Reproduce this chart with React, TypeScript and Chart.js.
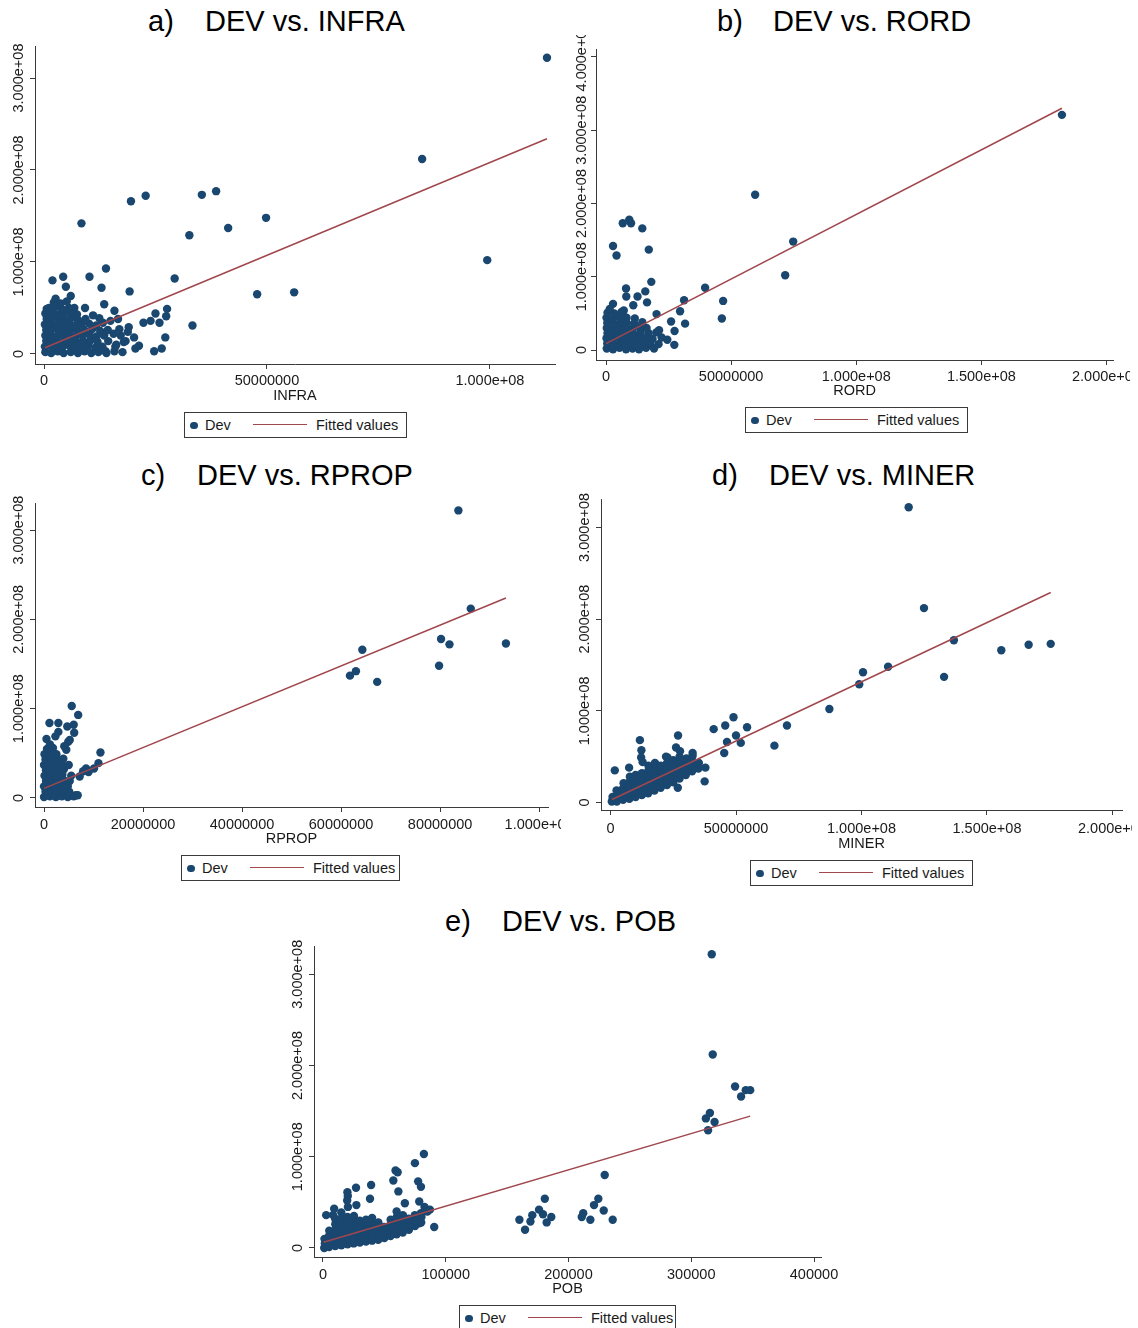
import React, { useEffect, useRef } from 'react';
import { Chart, registerables } from 'chart.js';

Chart.register(...registerables);

const NAVY = '#1a476f';
const MAROON = '#a0474d';
const AXIS = '#3a3a3a';
const TEXT = '#1a1a1a';
const FONT = "'Liberation Sans', Arial, Helvetica, sans-serif";
const FS = 14.5;

// ---------- DATA (x in millions, Dev in millions; POB in persons) ----------
const infraPoints: [number, number][] = [
  [112.8, 322], [84.8, 212], [99.4, 102], [38.6, 177], [35.4, 173], [22.8, 172], [19.5, 166], [49.8, 148],
  [8.4, 142], [41.3, 137], [32.6, 129], [29.3, 82], [47.8, 65], [56.1, 67], [13.9, 93], [10.2, 84], [4.3, 84],
  [1.9, 80], [4.9, 73], [12.9, 72], [6.0, 63], [13.5, 54], [19.2, 68], [33.3, 31], [27.6, 49], [27.4, 41],
  [25.0, 44], [25.9, 34], [23.9, 36], [22.3, 34], [27.2, 18], [26.4, 6], [24.7, 3], [19.0, 29], [21.3, 9],
  [20.2, 18], [15.8, 47], [9.2, 50], [6.8, 50], [0.6, 49], [2.6, 60], [15.8, 3], [13.8, 3],
  [16.6, 38], [17.2, 20], [18.3, 14], [16.0, 8], [18.8, 24], [20.5, 6],
  [0.3, 2], [1.6, 1], [3.1, 3], [4.4, 1], [6.0, 2], [7.6, 1], [9.1, 3], [10.6, 1], [12.2, 2], [14.0, 1], [17.6, 2],
  [0.2, 8], [1.4, 9], [2.8, 7], [4.2, 8], [5.7, 9], [7.1, 7], [8.5, 8], [10.0, 9], [11.6, 7], [13.1, 8], [16.2, 10],
  [0.5, 14], [1.7, 15], [3.0, 13], [4.5, 14], [5.9, 15], [7.3, 13], [8.8, 14], [10.4, 15], [12.0, 13], [14.4, 14], [17.9, 13],
  [0.3, 20], [1.5, 21], [2.9, 19], [4.3, 20], [5.7, 21], [7.1, 19], [8.6, 20], [10.2, 21], [11.8, 19], [13.5, 20], [15.6, 22],
  [0.5, 26], [1.8, 27], [3.2, 25], [4.6, 26], [6.0, 27], [7.4, 25], [9.0, 26], [10.8, 27], [12.6, 25], [14.3, 26], [16.9, 27],
  [0.2, 32], [1.4, 33], [2.8, 31], [4.2, 32], [5.6, 33], [7.0, 31], [8.4, 32], [10.1, 33], [11.7, 31], [13.2, 34],
  [0.6, 38], [1.9, 39], [3.2, 37], [4.6, 38], [6.1, 39], [7.6, 37], [9.3, 38], [12.4, 39], [14.9, 36],
  [0.3, 44], [1.5, 45], [2.9, 43], [4.3, 44], [5.8, 45], [7.4, 43], [11.0, 42],
  [1.1, 50], [2.5, 51], [4.0, 49], [5.6, 50], [2.2, 56], [3.7, 55], [5.1, 57],
];
const infraFit: [number, number][] = [[0.2, 6.8], [112.8, 234]];

const rordPoints: [number, number][] = [
  [182.2, 321], [59.6, 212], [74.8, 148], [71.6, 102], [9.3, 178], [6.7, 173], [10.0, 173], [14.5, 166],
  [2.8, 142], [4.2, 129], [17.1, 137], [39.6, 85], [46.8, 67], [46.3, 43], [31.2, 68], [29.6, 53], [31.6, 36],
  [26.0, 39], [27.4, 26], [27.3, 7], [24.5, 14], [21.2, 27], [18.1, 93], [15.7, 80], [8.0, 84], [8.1, 73],
  [12.6, 73], [2.8, 63], [10.9, 61], [16.4, 65], [7.1, 54], [20.2, 49], [17.8, 7], [14.8, 7],
  [0.3, 2], [2.8, 1], [5.4, 3], [8.0, 1], [10.6, 2], [13.2, 1], [16.0, 3], [19.2, 2],
  [0.5, 9], [3.0, 8], [5.6, 10], [8.2, 9], [10.8, 8], [13.5, 10], [16.5, 9], [21.0, 8],
  [0.2, 16], [2.7, 15], [5.3, 17], [7.9, 16], [10.5, 15], [13.1, 17], [15.8, 16], [18.6, 15], [22.2, 17],
  [0.6, 23], [3.2, 22], [5.8, 24], [8.4, 23], [11.0, 22], [13.8, 24], [17.0, 23], [20.1, 24],
  [0.3, 30], [2.9, 29], [5.5, 31], [8.1, 30], [10.7, 29], [13.4, 31], [16.2, 30],
  [0.5, 37], [3.1, 36], [5.7, 38], [8.3, 37], [11.2, 36], [14.5, 38],
  [0.2, 44], [2.8, 43], [5.4, 45], [8.2, 44], [11.5, 43],
  [0.6, 51], [3.3, 50], [6.2, 52], [1.5, 56],
];
const rordFit: [number, number][] = [[0, 8.7], [182.2, 330]];

const rpropPoints: [number, number][] = [
  [83.7, 322], [86.2, 212], [80.2, 178], [81.9, 172], [93.3, 173], [79.8, 148], [64.3, 166], [63.0, 142],
  [61.8, 137], [67.3, 130], [5.6, 103], [6.9, 93], [1.1, 84], [2.9, 84], [6.0, 82], [4.7, 80], [0.5, 66],
  [6.1, 73], [2.3, 69], [2.9, 74], [5.2, 65], [11.4, 51], [11.0, 39], [10.1, 33], [8.5, 33], [7.9, 30],
  [9.0, 29], [7.2, 24], [6.4, 3], [4.5, 54], [4.9, 63], [4.1, 58],
  [0.0, 1], [1.2, 2], [2.4, 1], [3.6, 2], [4.8, 1], [6.0, 2], [6.8, 3],
  [0.3, 7], [1.5, 8], [2.7, 7], [3.9, 8], [5.1, 7],
  [0.0, 13], [1.2, 14], [2.4, 13], [3.6, 14], [4.8, 13],
  [0.4, 19], [1.6, 20], [2.8, 19], [4.0, 20], [5.2, 19],
  [0.1, 25], [1.3, 26], [2.5, 25], [3.7, 26], [5.5, 25],
  [0.4, 31], [1.6, 32], [2.8, 31], [4.0, 32],
  [0.0, 37], [1.2, 38], [2.4, 37], [3.6, 38], [5.0, 37],
  [0.3, 43], [1.5, 44], [2.7, 43], [3.9, 44],
  [0.1, 49], [1.3, 50], [2.5, 49], [0.6, 55], [1.8, 56], [1.2, 60],
];
const rpropFit: [number, number][] = [[0, 10.8], [93.3, 224]];

const minerPoints: [number, number][] = [
  [118.8, 322], [124.9, 212], [136.8, 177], [175.4, 173], [166.6, 172], [155.7, 166], [110.6, 148], [100.6, 142],
  [132.9, 137], [99.1, 129], [87.2, 102], [70.3, 84], [65.3, 62], [54.4, 82], [49.0, 93], [45.7, 84], [41.1, 80],
  [50.0, 73], [46.4, 66], [51.9, 65], [45.3, 54], [26.9, 73], [11.7, 68], [37.5, 23], [37.8, 38], [26.8, 16],
  [1.7, 35], [7.4, 38], [12.3, 57], [26.1, 60], [32.7, 54], [22.1, 50],
  [0.5, 1], [0.8, 6], [2.5, 1], [2.6, 7], [2.4, 13], [5.0, 3], [5.1, 9], [4.9, 15], [5.2, 21],
  [7.5, 4], [7.6, 10], [7.4, 16], [7.5, 22], [7.7, 28], [10.0, 6], [10.1, 12], [9.9, 18], [10.2, 24], [10.0, 30],
  [12.5, 8], [12.6, 14], [12.4, 20], [12.6, 26], [12.5, 32], [12.8, 44], [12.2, 49],
  [15.0, 10], [15.1, 16], [14.9, 22], [15.2, 28], [15.0, 34], [15.1, 40],
  [17.5, 13], [17.6, 19], [17.4, 25], [17.6, 31], [17.5, 37], [17.7, 43],
  [20.0, 16], [20.1, 22], [19.9, 28], [20.2, 34], [20.0, 40],
  [22.5, 19], [22.6, 25], [22.4, 31], [22.6, 37], [22.5, 43], [22.7, 49],
  [25.0, 22], [25.1, 28], [24.9, 34], [25.2, 40], [25.0, 46],
  [27.5, 26], [27.6, 32], [27.4, 38], [27.6, 44], [27.5, 50], [27.7, 56],
  [30.0, 30], [30.1, 36], [29.9, 42], [30.2, 48],
  [32.5, 34], [32.6, 40], [32.4, 46], [32.7, 51], [35.0, 37], [35.2, 43],
];
const minerFit: [number, number][] = [[0.6, 3.3], [175.4, 229]];

const pobPoints: [number, number][] = [
  [316700, 322], [317500, 212], [335700, 177], [340600, 166], [344400, 173], [348000, 173], [315200, 148],
  [311900, 142], [319000, 138], [313700, 129], [82200, 103], [74900, 93], [59100, 85], [60800, 83],
  [229500, 80], [77500, 73], [79800, 67], [39200, 69], [26900, 66], [180700, 54], [224300, 54], [220800, 47],
  [228700, 41], [236000, 31], [212000, 38], [210800, 34], [217800, 31], [176000, 42], [179200, 37],
  [170500, 36], [186000, 34], [182200, 28], [169000, 29], [160000, 31], [164600, 20], [90600, 23],
  [87100, 42], [82700, 45], [78400, 51], [66700, 49], [61400, 62], [57300, 74], [38300, 54], [20200, 57],
  [19900, 61], [8200, 36], [2600, 36], [9100, 43], [27200, 47], [74000, 31], [78400, 27],
  [1000, 0], [1500, 5], [1200, 10], [5000, 1], [5200, 7], [4800, 13], [5100, 19],
  [10000, 2], [10200, 8], [9800, 14], [10100, 20], [10000, 26], [9900, 32],
  [15000, 3], [15200, 9], [14800, 15], [15100, 21], [15000, 27], [15200, 33], [14900, 39],
  [20000, 4], [20200, 10], [19800, 16], [20100, 22], [20000, 28], [19900, 34], [20300, 45], [19700, 52],
  [25000, 5], [25200, 11], [24800, 17], [25100, 23], [25000, 29], [25200, 35],
  [30000, 6], [30200, 12], [29800, 18], [30100, 24], [30000, 30],
  [35000, 7], [35200, 13], [34800, 19], [35100, 25], [35000, 31],
  [40000, 8], [40200, 14], [39800, 20], [40100, 26], [40000, 33],
  [45000, 9], [45200, 15], [44800, 21], [45100, 28],
  [50000, 11], [50200, 17], [49800, 23],
  [55000, 13], [55200, 19], [54800, 25], [55100, 31],
  [60000, 15], [60200, 21], [59800, 27], [60100, 34], [60000, 40],
  [65000, 17], [65200, 23], [64800, 29], [65100, 36],
  [70000, 20], [70200, 26], [69800, 32],
  [75000, 24], [75200, 30], [74800, 36],
  [80000, 28], [80200, 34], [79800, 38], [85000, 40],
];
const pobFit: [number, number][] = [[500, 6.2], [348000, 144.5]];

// tick values and labels
const devTicks = [0, 100, 200, 300];
const devTickLabels = ['0', '1.000e+08', '2.000e+08', '3.000e+08'];
const devTicksB = [0, 100, 200, 300, 400];
const devTickLabelsB = ['0', '1.000e+08', '2.000e+08', '3.000e+08', '4.000e+08'];
const infraTicks = [0, 50, 100];
const infraTickLabels = ['0', '50000000', '1.000e+08'];
const rordTicks = [0, 50, 100, 150, 200];
const rordTickLabels = ['0', '50000000', '1.000e+08', '1.500e+08', '2.000e+08'];
const rpropTicks = [0, 20, 40, 60, 80, 100];
const rpropTickLabels = ['0', '20000000', '40000000', '60000000', '80000000', '1.000e+08'];
const minerTicks = [0, 50, 100, 150, 200];
const minerTickLabels = ['0', '50000000', '1.000e+08', '1.500e+08', '2.000e+08'];
const pobTicks = [0, 100000, 200000, 300000, 400000];
const pobTickLabels = ['0', '100000', '200000', '300000', '400000'];

// ---------- LAYOUT ----------
type Panel = {
  letter: string; title: string; xTitle: string;
  points: [number, number][]; fit: [number, number][];
  xTicks: number[]; xTickLabels: string[]; yTicks: number[]; yTickLabels: string[];
  xMin: number; xMax: number; yMin: number; yMax: number;
  canvas: { left: number; top: number; width: number; height: number };
  area: { left: number; top: number; right: number; bottom: number };
  tickPad: number; titlePad: number; yLabelOffset: number;
  head: { letterX: number; textX: number; cy: number };
  legend: { left: number; top: number; width: number };
};

const panels: Panel[] = [
  {
    letter: 'a)', title: 'DEV vs. INFRA', xTitle: 'INFRA', points: infraPoints, fit: infraFit,
    xTicks: infraTicks, xTickLabels: infraTickLabels, yTicks: devTicks, yTickLabels: devTickLabels,
    xMin: -2.02, xMax: 114.6, yMin: -10.9, yMax: 334.8,
    canvas: { left: 0, top: 36, width: 562, height: 372 },
    area: { left: 35, top: 46, right: 555, bottom: 364 },
    tickPad: 5, titlePad: 5, yLabelOffset: 16,
    head: { letterX: 148, textX: 205, cy: 21 },
    legend: { left: 184, top: 412, width: 223 },
  },
  {
    letter: 'b)', title: 'DEV vs. RORD', xTitle: 'RORD', points: rordPoints, fit: rordFit,
    xTicks: rordTicks, xTickLabels: rordTickLabels, yTicks: devTicksB, yTickLabels: devTickLabelsB,
    xMin: -4.0, xMax: 202.6, yMin: -13.65, yMax: 410.9,
    canvas: { left: 570, top: 35, width: 560, height: 365 },
    area: { left: 596, top: 49, right: 1113, bottom: 360 },
    tickPad: 5, titlePad: 2, yLabelOffset: 14,
    head: { letterX: 717, textX: 773, cy: 21 },
    legend: { left: 745, top: 407, width: 223 },
  },
  {
    letter: 'c)', title: 'DEV vs. RPROP', xTitle: 'RPROP', points: rpropPoints, fit: rpropFit,
    xTicks: rpropTicks, xTickLabels: rpropTickLabels, yTicks: devTicks, yTickLabels: devTickLabels,
    xMin: -1.82, xMax: 101.8, yMin: -10.1, yMax: 330.3,
    canvas: { left: 0, top: 490, width: 561, height: 360 },
    area: { left: 35, top: 503, right: 548, bottom: 807 },
    tickPad: 6, titlePad: 4, yLabelOffset: 16,
    head: { letterX: 141, textX: 197, cy: 475 },
    legend: { left: 181, top: 855, width: 219 },
  },
  {
    letter: 'd)', title: 'DEV vs. MINER', xTitle: 'MINER', points: minerPoints, fit: minerFit,
    xTicks: minerTicks, xTickLabels: minerTickLabels, yTicks: devTicks, yTickLabels: devTickLabels,
    xMin: -3.8, xMax: 203.8, yMin: -8.2, yMax: 331,
    canvas: { left: 570, top: 490, width: 562, height: 366 },
    area: { left: 601, top: 499, right: 1122, bottom: 810 },
    tickPad: 7, titlePad: 5, yLabelOffset: 16,
    head: { letterX: 712, textX: 769, cy: 475 },
    legend: { left: 750, top: 860, width: 223 },
  },
  {
    letter: 'e)', title: 'DEV vs. POB', xTitle: 'POB', points: pobPoints, fit: pobFit,
    xTicks: pobTicks, xTickLabels: pobTickLabels, yTicks: devTicks, yTickLabels: devTickLabels,
    xMin: -7330, xMax: 405700, yMin: -9.9, yMax: 331,
    canvas: { left: 280, top: 935, width: 560, height: 365 },
    area: { left: 314, top: 946, right: 821, bottom: 1257 },
    tickPad: 6, titlePad: 4, yLabelOffset: 16,
    head: { letterX: 445, textX: 502, cy: 921 },
    legend: { left: 459, top: 1305, width: 217 },
  },
];

function buildConfig(p: Panel): any {
  const W = p.area.left - p.canvas.left;
  const H = p.canvas.top + p.canvas.height - p.area.bottom;
  const padTop = p.area.top - p.canvas.top;
  const padRight = p.canvas.left + p.canvas.width - p.area.right;
  const font = { family: FONT, size: FS, lineHeight: 1 };

  const yLabelPlugin = {
    id: 'stataYLabels',
    afterDraw(chart: any) {
      const s = chart.scales.y;
      const ctx = chart.ctx;
      ctx.save();
      ctx.fillStyle = TEXT;
      ctx.font = `${FS}px ${FONT}`;
      ctx.textAlign = 'center';
      ctx.textBaseline = 'middle';
      p.yTicks.forEach((v, i) => {
        const y = s.getPixelForValue(v);
        ctx.save();
        ctx.translate(s.right - p.yLabelOffset, y);
        ctx.rotate(-Math.PI / 2);
        ctx.fillText(p.yTickLabels[i], 0, 0);
        ctx.restore();
      });
      ctx.restore();
    },
  };

  return {
    type: 'scatter',
    data: {
      datasets: [
        {
          type: 'line',
          label: 'Fitted values',
          data: p.fit.map(([x, y]) => ({ x, y })),
          borderColor: MAROON,
          borderWidth: 1.5,
          pointRadius: 0,
          fill: false,
          tension: 0,
          order: 0,
        },
        {
          type: 'scatter',
          label: 'Dev',
          data: p.points.map(([x, y]) => ({ x, y })),
          backgroundColor: NAVY,
          borderColor: NAVY,
          borderWidth: 0,
          pointRadius: 4.2,
          order: 1,
        },
      ],
    },
    options: {
      animation: false,
      responsive: false,
      maintainAspectRatio: false,
      events: [],
      layout: { padding: { left: 0, top: padTop, right: padRight, bottom: 0 } },
      plugins: { legend: { display: false }, tooltip: { enabled: false }, title: { display: false } },
      scales: {
        x: {
          type: 'linear',
          min: p.xMin,
          max: p.xMax,
          afterBuildTicks: (s: any) => { s.ticks = p.xTicks.map((v) => ({ value: v })); },
          ticks: {
            font, color: TEXT, padding: p.tickPad, maxRotation: 0, minRotation: 0, autoSkip: false,
            callback: (v: number) => { const i = p.xTicks.indexOf(v); return i >= 0 ? p.xTickLabels[i] : ''; },
          },
          grid: { display: true, drawOnChartArea: false, drawTicks: true, tickLength: 5, color: AXIS, lineWidth: 1 },
          border: { display: true, color: AXIS, width: 1 },
          title: { display: true, text: p.xTitle, font, color: TEXT, padding: { top: 0, bottom: p.titlePad } },
          afterFit: (s: any) => { s.height = H; s.paddingLeft = 0; s.paddingRight = 0; s.paddingTop = 0; s.paddingBottom = 0; },
        },
        y: {
          type: 'linear',
          min: p.yMin,
          max: p.yMax,
          afterBuildTicks: (s: any) => { s.ticks = p.yTicks.map((v) => ({ value: v })); },
          ticks: { display: false },
          grid: { display: true, drawOnChartArea: false, drawTicks: true, tickLength: 5, color: AXIS, lineWidth: 1 },
          border: { display: true, color: AXIS, width: 1 },
          afterFit: (s: any) => { s.width = W; s.paddingLeft = 0; s.paddingRight = 0; s.paddingTop = 0; s.paddingBottom = 0; },
        },
      },
    },
    plugins: [yLabelPlugin],
  };
}

function PanelChart({ p }: { p: Panel }) {
  const ref = useRef<HTMLCanvasElement | null>(null);
  useEffect(() => {
    if (!ref.current) return;
    const chart = new Chart(ref.current, buildConfig(p));
    return () => chart.destroy();
  }, [p]);
  return (
    <canvas
      ref={ref}
      width={p.canvas.width}
      height={p.canvas.height}
      style={{ position: 'absolute', left: p.canvas.left, top: p.canvas.top, width: p.canvas.width, height: p.canvas.height }}
    />
  );
}

function Heading({ p }: { p: Panel }) {
  const style: React.CSSProperties = {
    position: 'absolute', top: p.head.cy - 16, fontSize: 29, lineHeight: '32px', color: '#000',
    fontFamily: FONT, whiteSpace: 'nowrap',
  };
  return (
    <>
      <div style={{ ...style, left: p.head.letterX }}>{p.letter}</div>
      <div style={{ ...style, left: p.head.textX }}>{p.title}</div>
    </>
  );
}

function Legend({ p }: { p: Panel }) {
  const { left, top, width } = p.legend;
  const txt: React.CSSProperties = {
    position: 'absolute', top: 0, lineHeight: '24px', fontSize: FS, color: TEXT, fontFamily: FONT, whiteSpace: 'nowrap',
  };
  return (
    <div style={{ position: 'absolute', left, top, width, height: 26, border: `1px solid ${AXIS}`, boxSizing: 'border-box', background: '#fff' }}>
      <div style={{ position: 'absolute', left: 5, top: 8.5, width: 7.5, height: 7.5, borderRadius: '50%', background: NAVY }} />
      <span style={{ ...txt, left: 20 }}>Dev</span>
      <div style={{ position: 'absolute', left: 68, top: 11, width: 54, height: 0, borderTop: `1.5px solid ${MAROON}` }} />
      <span style={{ ...txt, left: 131 }}>Fitted values</span>
    </div>
  );
}

export default function App() {
  return (
    <div style={{ position: 'absolute', left: 0, top: 0, width: 1138, height: 1328, background: '#fff', overflow: 'hidden', fontFamily: FONT }}>
      {panels.map((p) => (
        <React.Fragment key={p.letter}>
          <Heading p={p} />
          <PanelChart p={p} />
          <Legend p={p} />
        </React.Fragment>
      ))}
    </div>
  );
}
